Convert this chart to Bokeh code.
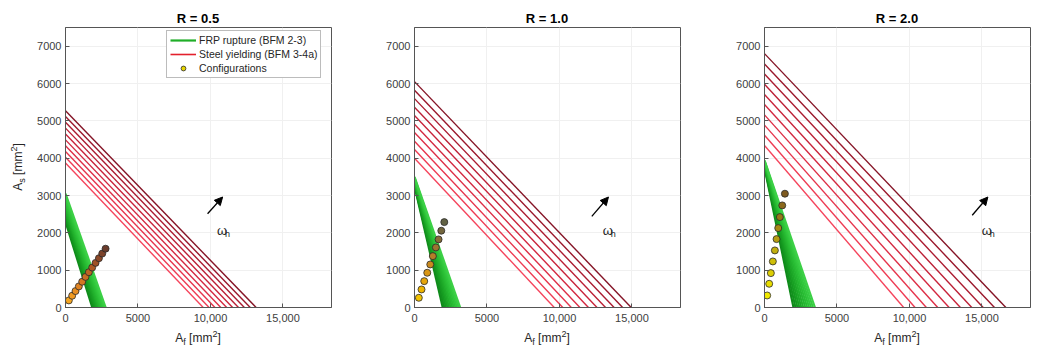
from bokeh.embed import file_html
from bokeh.layouts import column, row
from bokeh.models import Arrow, Div, FixedTicker, Label, Legend, LegendItem, NormalHead, Range1d
from bokeh.plotting import figure
from bokeh.resources import INLINE

FONT = "Liberation Sans"
TEXT = "#262626"
AXIS = "#555555"

# ---- axes -----------------------------------------------------------------
panel_titles = ["R = 0.5", "R = 1.0", "R = 2.0"]
x_ticks = [0, 5000, 10000, 15000]
x_tick_labels = ["0", "5000", "10,000", "15,000"]
y_ticks = [0, 1000, 2000, 3000, 4000, 5000, 6000, 7000]
x_max = 18350
y_max = 7500

# ---- FRP rupture limit lines (BFM 2-3): A_s intercept and A_f intercept ----
frp_as0 = [
    [2300, 2370, 2435, 2505, 2575, 2640, 2710, 2780, 2845, 2915, 2985, 3050],
    [3250, 3275, 3300, 3320, 3345, 3370, 3390, 3410, 3435, 3455, 3480, 3500],
    [3750, 3770, 3785, 3805, 3820, 3840, 3855, 3875, 3890, 3910, 3925, 3940],
]
frp_af0 = [
    [1850, 1935, 2015, 2100, 2185, 2265, 2350, 2435, 2520, 2600, 2685, 2770],
    [1950, 2060, 2170, 2280, 2385, 2495, 2605, 2715, 2825, 2935, 3045, 3150],
    [2000, 2135, 2270, 2400, 2535, 2670, 2810, 2945, 3080, 3210, 3345, 3480],
]
frp_colors = ["#0f8a1a", "#12911d", "#159920", "#18a023", "#1ca727", "#20ae2b",
              "#24b52f", "#28bb33", "#2cc137", "#31c63c", "#36cb41", "#3cd046"]

# ---- steel yielding limit lines (BFM 3-4a) ---------------------------------
steel_as0 = [
    [3870, 4025, 4180, 4335, 4490, 4650, 4805, 4960, 5115, 5270],
    [4000, 4230, 4455, 4685, 4910, 5140, 5365, 5595, 5820, 6050],
    [4340, 4615, 4885, 5160, 5435, 5705, 5980, 6255, 6525, 6800],
]
steel_af0 = [
    [9500, 9905, 10310, 10715, 11120, 11530, 11935, 12340, 12745, 13150],
    [9640, 10230, 10820, 11410, 12000, 12590, 13180, 13770, 14360, 14950],
    [9600, 10385, 11165, 11950, 12735, 13515, 14300, 15085, 15865, 16650],
]
steel_colors = ["#f5445c", "#ee3b53", "#e6344c", "#dd2e46", "#d32840",
                "#c8233a", "#bb1f35", "#ab1b30", "#9a172b", "#851426"]

# ---- section configurations ------------------------------------------------
cfg_af = [
    [230, 460, 690, 920, 1150, 1380, 1610, 1840, 2075, 2305, 2535, 2765],
    [298, 484, 671, 879, 1087, 1266, 1474, 1661, 1848, 2055],
    [185, 323, 438, 576, 715, 830, 946, 1061, 1223, 1407],
]
cfg_as = [
    [190, 315, 440, 565, 690, 820, 945, 1070, 1195, 1320, 1445, 1575],
    [260, 483, 706, 930, 1153, 1376, 1609, 1824, 2057, 2287],
    [322, 635, 921, 1234, 1529, 1832, 2127, 2422, 2735, 3048],
]
cfg_colors = [
    ["#f5a623", "#f09a22", "#e88e22", "#df8322", "#d47822", "#c86e22",
     "#bb6423", "#ad5a24", "#9e5126", "#8d4928", "#7c422a", "#6b3c2c"],
    ["#f2c200", "#eeb400", "#e6a50a", "#d99614", "#c98a1e", "#b47e28",
     "#9d7430", "#876c38", "#73663e", "#626244"],
    ["#f0e800", "#e8dc00", "#dcce04", "#cfbf08", "#c2ae0c", "#b49c10",
     "#a68a14", "#987818", "#8b681c", "#7e5a20"],
]

# ---- direction of increasing omega_h --------------------------------------
omega_x0 = [9800, 12230, 14330]
omega_y0 = [2510, 2440, 2470]
omega_x1 = [10840, 13380, 15410]
omega_y1 = [2960, 2960, 2960]
omega_lx = [10450, 12990, 14995]
omega_ly = [2060, 2060, 2060]

# ---- layout (pixels) --------------------------------------------------------
YLAB_W = 28
fig_widths = [340 - YLAB_W, 350, 347]
border_left = [65 - YLAB_W, 74, 74]
border_right = [9, 10, 7]
TITLE_H = 24
FIG_H = 306
XLAB_H = 17
BORDER_TOP = 3
BORDER_BOTTOM = 23
FRAME_W = 266
FRAME_H = FIG_H - BORDER_TOP - BORDER_BOTTOM

SUB = "font-size:9px;position:relative;top:3px;"
SUP = "font-size:9px;position:relative;top:-5px;"
LAB = (f"white-space:nowrap;font-family:'{FONT}';font-size:12px;"
       f"line-height:12px;color:{TEXT};")


def title_div(width, cx, text):
    html = (f'<div style="position:relative;width:{width}px;height:{TITLE_H}px;">'
            f'<span style="position:absolute;left:{cx}px;top:12px;transform:translateX(-50%);'
            f"white-space:nowrap;font-family:'{FONT}';font-size:13px;font-weight:bold;"
            f'line-height:13px;color:#000000;">{text}</span></div>')
    return Div(text=html, width=width, height=TITLE_H, margin=0)


def x_title(width, cx):
    html = (f'<div style="position:relative;width:{width}px;height:{XLAB_H}px;">'
            f'<span style="position:absolute;left:{cx}px;top:2px;transform:translateX(-50%);{LAB}">'
            f'A<span style="{SUB}">f</span> [mm<span style="{SUP}">2</span>]</span></div>')
    return Div(text=html, width=width, height=XLAB_H, margin=0)


def y_title(width, height, cx, cy):
    html = (f'<div style="position:relative;width:{width}px;height:{height}px;">'
            f'<span style="position:absolute;left:{cx}px;top:{cy}px;'
            f'transform:translate(-50%,-50%) rotate(-90deg);{LAB}">'
            f'A<span style="{SUB}">s</span> [mm<span style="{SUP}">2</span>]</span></div>')
    return Div(text=html, width=width, height=height, margin=0)


def line_ends(as0, af0):
    xs = [[0, b] for b in af0]
    ys = [[a, 0] for a in as0]
    return xs, ys


columns = []
for k in range(3):
    p = figure(width=fig_widths[k], height=FIG_H, output_backend="svg",
               toolbar_location=None, title_location=None,
               x_range=Range1d(0, x_max), y_range=Range1d(0, y_max),
               min_border_left=border_left[k], min_border_right=border_right[k],
               min_border_top=BORDER_TOP, min_border_bottom=BORDER_BOTTOM,
               background_fill_color="white", border_fill_color="white")
    p.outline_line_color = AXIS
    p.outline_line_width = 1

    p.xaxis.ticker = FixedTicker(ticks=x_ticks)
    p.xaxis.major_label_overrides = {t: s for t, s in zip(x_ticks, x_tick_labels)}
    p.yaxis.ticker = FixedTicker(ticks=y_ticks)
    p.xgrid.ticker = FixedTicker(ticks=x_ticks)
    p.ygrid.ticker = FixedTicker(ticks=y_ticks)
    p.grid.grid_line_color = "#f0f0f0"
    p.grid.grid_line_width = 1
    for ax in (p.xaxis, p.yaxis):
        ax.axis_line_color = AXIS
        ax.major_tick_line_color = AXIS
        ax.major_tick_in = 4
        ax.major_tick_out = 0
        ax.minor_tick_line_color = None
        ax.major_label_text_font = FONT
        ax.major_label_text_font_size = "11px"
        ax.major_label_text_color = "#404040"
    p.xaxis.major_label_standoff = 6
    p.yaxis.major_label_standoff = 4

    fx, fy = line_ends(frp_as0[k], frp_af0[k])
    p.multi_line(xs=fx, ys=fy, line_color=frp_colors, line_width=2.2)

    sx, sy = line_ends(steel_as0[k], steel_af0[k])
    p.multi_line(xs=sx, ys=sy, line_color=steel_colors, line_width=1.4)

    p.scatter(cfg_af[k], cfg_as[k], size=7, fill_color=cfg_colors[k],
              line_color="#2a2a2a", line_width=0.8)

    p.add_layout(Arrow(end=NormalHead(size=8, fill_color="black", line_color="black"),
                       x_start=omega_x0[k], y_start=omega_y0[k],
                       x_end=omega_x1[k], y_end=omega_y1[k],
                       line_color="black", line_width=1.3))
    p.add_layout(Label(x=omega_lx[k], y=omega_ly[k], text="ω", text_font=FONT,
                       text_font_size="13px", text_color=TEXT, text_baseline="alphabetic"))
    p.add_layout(Label(x=omega_lx[k], y=omega_ly[k], x_offset=8, y_offset=-3, text="h",
                       text_font=FONT, text_font_size="9px", text_color=TEXT,
                       text_baseline="alphabetic"))

    if k == 0:
        nan = float("nan")
        r_frp = p.line([nan], [nan], line_color="#1fae28", line_width=2.2)
        r_steel = p.line([nan], [nan], line_color="#e3202c", line_width=1.6)
        r_cfg = p.scatter([nan], [nan], size=6, fill_color="#e6d400", line_color="#2a2a2a",
                          line_width=0.8)
        legend = Legend(items=[
            LegendItem(label="FRP rupture (BFM 2-3)", renderers=[r_frp]),
            LegendItem(label="Steel yielding (BFM 3-4a)", renderers=[r_steel]),
            LegendItem(label="Configurations", renderers=[r_cfg]),
        ], location=(101, 229))
        legend.label_text_font = FONT
        legend.label_text_font_size = "10.5px"
        legend.label_text_color = TEXT
        legend.glyph_width = 26
        legend.glyph_height = 12
        legend.label_height = 12
        legend.label_standoff = 3
        legend.spacing = 2
        legend.padding = 3
        legend.margin = 0
        legend.border_line_color = "#7a7a7a"
        legend.border_line_width = 1
        legend.background_fill_color = "white"
        legend.background_fill_alpha = 1
        p.add_layout(legend, "center")

    cx = border_left[k] + FRAME_W / 2
    columns.append(column(title_div(fig_widths[k], cx, panel_titles[k]), p,
                          x_title(fig_widths[k], cx), spacing=0))

frame_mid = TITLE_H + BORDER_TOP + FRAME_H / 2
layout = row(y_title(YLAB_W, TITLE_H + FIG_H + XLAB_H, 18, frame_mid), *columns, spacing=0)

with open("out.html", "w") as fh:
    fh.write(file_html(layout, INLINE))
